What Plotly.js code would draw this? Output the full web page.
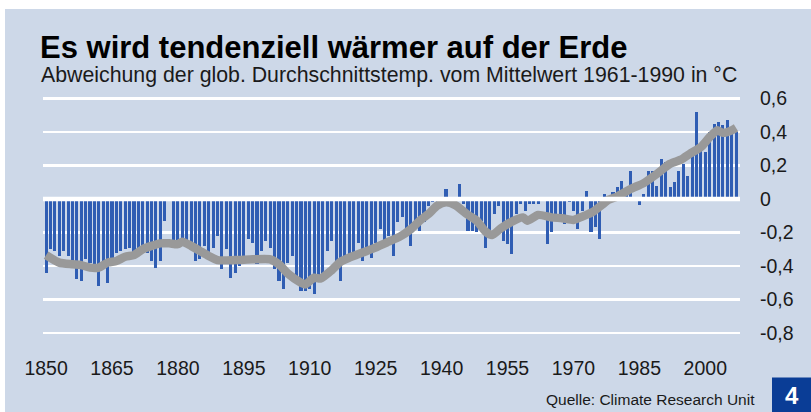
<!DOCTYPE html>
<html>
<head>
<meta charset="utf-8">
<script src="https://cdn.plot.ly/plotly-3.0.1.min.js"></script>
<style>
html,body{margin:0;padding:0;background:#ffffff;width:811px;height:412px;overflow:hidden;}
#chart{position:absolute;left:5px;top:9px;width:806px;height:403px;}
</style>
</head>
<body>
<div id="chart"></div>
<script>
// Annual anomalies (°C vs. 1961-1990), 1850 .. 2007
const firstYear = 1850;
const anomaly = [
  -0.44,-0.30,-0.31,-0.34,-0.31,-0.34,-0.41,-0.48,-0.49,-0.36,
  -0.38,-0.41,-0.52,-0.38,-0.50,-0.36,-0.32,-0.31,-0.30,-0.29,
  -0.32,-0.34,-0.29,-0.32,-0.37,-0.41,-0.37,-0.13,-0.01,-0.26,
  -0.26,-0.25,-0.26,-0.30,-0.37,-0.36,-0.28,-0.33,-0.29,-0.22,
  -0.42,-0.30,-0.47,-0.44,-0.40,-0.37,-0.24,-0.26,-0.39,-0.31,
  -0.25,-0.29,-0.42,-0.49,-0.54,-0.38,-0.34,-0.47,-0.55,-0.55,
  -0.54,-0.57,-0.48,-0.45,-0.31,-0.25,-0.40,-0.49,-0.35,-0.33,
  -0.32,-0.26,-0.37,-0.32,-0.35,-0.26,-0.18,-0.25,-0.22,-0.34,
  -0.14,-0.11,-0.19,-0.28,-0.13,-0.19,-0.14,-0.04,-0.02,-0.03,
  -0.01, 0.06,-0.03,-0.01, 0.09,-0.03,-0.19,-0.19,-0.20,-0.13,
  -0.29,-0.22,-0.09,-0.04,-0.25,-0.27,-0.33,-0.09,-0.03,-0.07,
  -0.03,-0.03,-0.03,-0.01,-0.27,-0.20,-0.13,-0.11,-0.15,-0.02,
  -0.07,-0.18,-0.07, 0.05,-0.20,-0.17,-0.24, 0.03,-0.02, 0.04,
   0.07, 0.11, 0.03, 0.17,-0.01,-0.035,0.03, 0.17, 0.17, 0.08,
   0.24, 0.22, 0.07, 0.10, 0.17, 0.21, 0.14, 0.30, 0.52, 0.30,
   0.28, 0.40, 0.45, 0.46, 0.44, 0.47, 0.43, 0.40
];
const years = anomaly.map((v, i) => firstYear + i);

// Smoothed trend line
const smoothYear = [1850,1853,1856,1858,1860,1862,1864,1866,1868,1870,1872,1874,1876,1878,1880,1881,1883,1885,1887,1889,
  1893,1897,1901,1903,1905,1908,1909,1911,1912.5,1915,1917,1919,1922,1924.5,1927.5,1930.5,1933,1935,1937,1939,
  1941,1943,1946,1948,1950,1951.5,1953.5,1956,1958.5,1959.5,1962,1965,1967.5,1970,1972,1974.5,1976.5,1978,1980,1983,
  1986,1989,1992,1994.5,1996.5,1999,2001,2002.7,2004,2006,2007];
const smoothValue = [-0.335,-0.38,-0.39,-0.395,-0.41,-0.41,-0.38,-0.37,-0.345,-0.335,-0.30,-0.28,-0.265,-0.265,-0.27,-0.255,-0.28,-0.31,-0.34,-0.365,
  -0.365,-0.36,-0.36,-0.39,-0.445,-0.50,-0.51,-0.47,-0.475,-0.425,-0.375,-0.35,-0.32,-0.295,-0.26,-0.225,-0.18,-0.13,-0.09,-0.04,
  -0.02,-0.035,-0.095,-0.13,-0.195,-0.215,-0.175,-0.135,-0.11,-0.13,-0.095,-0.11,-0.115,-0.125,-0.105,-0.075,-0.035,-0.005,0.015,0.06,
  0.095,0.15,0.21,0.235,0.27,0.31,0.37,0.41,0.395,0.41,0.425];

const xTickVals = [1850,1865,1880,1895,1910,1925,1940,1955,1970,1985,2000];
const xTickText = ["1850","1865","1880","1895","1910","1925","1940","1955","1970","1985","2000"];
const yTickVals = [-0.8,-0.6,-0.4,-0.2,0,0.2,0.4,0.6];
const yTickText = ["-0,8","-0,6","-0,4","-0,2","0","0,2","0,4","0,6"];

const titleText = "<b>Es wird tendenziell wärmer auf der Erde</b>";
const subtitleText = "Abweichung der glob. Durchschnittstemp. vom Mittelwert 1961-1990 in °C";
const sourceText = "Quelle: Climate Research Unit";
const pageNumber = "<b>4</b>";

const FONT = "'Liberation Sans', Arial, Helvetica, sans-serif";
const BG = "#cdd8e8";

const traces = [
  {
    type: "bar", x: years, y: anomaly, width: 0.7,
    marker: {color: "#2f5db3", line: {width: 0}},
    hoverinfo: "skip"
  },
  {
    type: "scatter", mode: "lines", x: smoothYear, y: smoothValue,
    line: {color: "#999999", width: 8.5, shape: "spline", smoothing: 0.6},
    hoverinfo: "skip"
  }
];

const layout = {
  width: 806, height: 403,
  margin: {l: 38, r: 71, t: 84, b: 66, pad: 0},
  paper_bgcolor: BG, plot_bgcolor: BG,
  showlegend: false,
  bargap: 0,
  font: {family: FONT, color: "#1a1a1a"},
  title: {
    text: titleText,
    font: {family: FONT, size: 31, color: "#000000"},
    xref: "container", x: 35/806, xanchor: "left",
    yref: "container", y: 1 - 38/403, yanchor: "middle"
  },
  xaxis: {
    range: [1849.3, 2007.9],
    tickmode: "array", tickvals: xTickVals, ticktext: xTickText,
    showgrid: false, zeroline: false, showline: false, ticks: "",
    ticklabelstandoff: 8,
    tickfont: {family: FONT, size: 19.5, color: "#1a1a1a"}
  },
  yaxis: {
    range: [-0.878, 0.633], side: "right",
    tickmode: "array", tickvals: yTickVals, ticktext: yTickText,
    showgrid: true, gridcolor: "#ffffff", gridwidth: 2.5,
    zeroline: false, showline: false, ticks: "",
    ticklabelstandoff: 19,
    tickfont: {family: FONT, size: 19.5, color: "#1a1a1a"}
  },
  shapes: [
    {type: "line", xref: "paper", x0: 0, x1: 1, yref: "y", y0: 0, y1: 0,
     line: {color: "#ffffff", width: 4.5}, layer: "above"},
    {type: "rect", xref: "paper", x0: (772-43)/697, x1: (815-43)/697,
     yref: "paper", y0: (346-415)/253, y1: (346-377.5)/253,
     fillcolor: "#0a3d96", line: {width: 0}, layer: "above"}
  ],
  annotations: [
    {text: subtitleText, xref: "paper", x: (39-43)/697, xanchor: "left",
     yref: "paper", y: (346-75)/253, yanchor: "middle", showarrow: false,
     font: {family: FONT, size: 21.3, color: "#1a1a1a"}},
    {text: sourceText, xref: "paper", x: (757-43)/697, xanchor: "right",
     yref: "paper", y: (346-399)/253, yanchor: "middle", showarrow: false,
     font: {family: FONT, size: 15.5, color: "#1a1a1a"}},
    {text: pageNumber, xref: "paper", x: (791.5-43)/697, xanchor: "center",
     yref: "paper", y: (346-395)/253, yanchor: "middle", showarrow: false,
     font: {family: FONT, size: 24, color: "#ffffff"}}
  ]
};

Plotly.newPlot("chart", traces, layout, {displayModeBar: false, staticPlot: true});
</script>
</body>
</html>
